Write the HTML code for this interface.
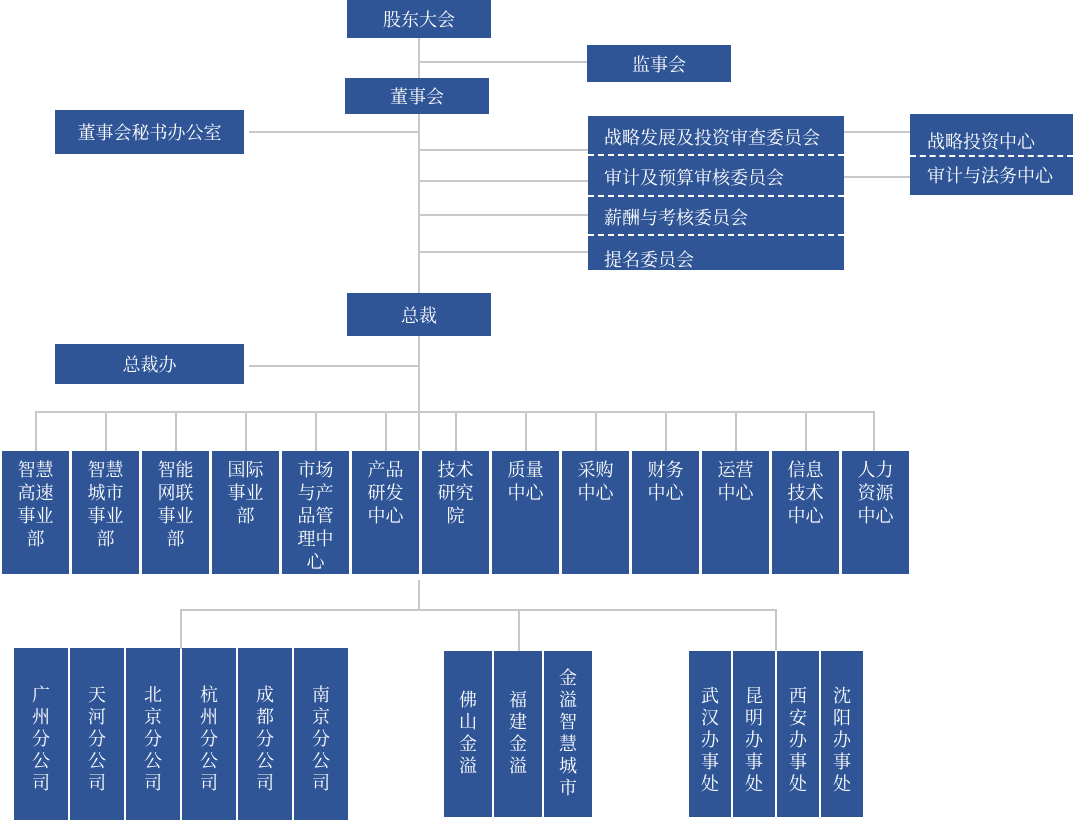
<!DOCTYPE html>
<html><head><meta charset="utf-8"><style>
body{margin:0;width:1075px;height:828px;background:#fff;position:relative;overflow:hidden;font-family:"Liberation Serif","Noto Serif CJK SC",serif;}
.b{position:absolute;background:#2f5597;color:#fff;font-size:18px;box-sizing:border-box;}
.c{display:flex;align-items:center;justify-content:center;}
.h{position:absolute;background:#c8c8c8;height:2px;}
.v{position:absolute;background:#c8c8c8;width:2px;}
.t{text-align:center;line-height:23px;padding-top:8px;}
.w{text-align:center;line-height:22px;}
.d{position:absolute;left:0;right:0;border-top:2px dashed #fff;}
</style></head><body>
<!-- lines -->
<div class="v" style="left:418px;top:38px;height:256px"></div>
<div class="h" style="left:419px;top:61px;width:168px"></div>
<div class="h" style="left:249px;top:131px;width:170px"></div>
<div class="h" style="left:419px;top:149px;width:169px"></div>
<div class="h" style="left:419px;top:180px;width:169px"></div>
<div class="h" style="left:419px;top:214px;width:169px"></div>
<div class="h" style="left:419px;top:251px;width:169px"></div>
<div class="h" style="left:844px;top:131px;width:66px"></div>
<div class="h" style="left:844px;top:176px;width:66px"></div>
<div class="v" style="left:418px;top:336px;height:114px"></div>
<div class="h" style="left:249px;top:365px;width:170px"></div>
<div class="h" style="left:36px;top:411px;width:839px"></div>
<div class="v" style="left:35px;top:411px;height:40px"></div>
<div class="v" style="left:105px;top:411px;height:40px"></div>
<div class="v" style="left:175px;top:411px;height:40px"></div>
<div class="v" style="left:245px;top:411px;height:40px"></div>
<div class="v" style="left:315px;top:411px;height:40px"></div>
<div class="v" style="left:385px;top:411px;height:40px"></div>
<div class="v" style="left:455px;top:411px;height:40px"></div>
<div class="v" style="left:525px;top:411px;height:40px"></div>
<div class="v" style="left:595px;top:411px;height:40px"></div>
<div class="v" style="left:665px;top:411px;height:40px"></div>
<div class="v" style="left:735px;top:411px;height:40px"></div>
<div class="v" style="left:805px;top:411px;height:40px"></div>
<div class="v" style="left:873px;top:411px;height:40px"></div>
<div class="v" style="left:418px;top:580px;height:31px"></div>
<div class="h" style="left:180px;top:609px;width:597px"></div>
<div class="v" style="left:180px;top:609px;height:40px"></div>
<div class="v" style="left:518px;top:609px;height:42px"></div>
<div class="v" style="left:775px;top:609px;height:42px"></div>
<!-- top boxes -->
<div class="b c" style="left:347px;top:0;width:144px;height:38px">股东大会</div>
<div class="b c" style="left:587px;top:45px;width:144px;height:37px">监事会</div>
<div class="b c" style="left:345px;top:78px;width:144px;height:36px">董事会</div>
<div class="b c" style="left:55px;top:110px;width:189px;height:44px">董事会秘书办公室</div>
<div class="b" style="left:588px;top:116px;width:256px;height:154px">
<div style="position:absolute;left:16px;top:8px">战略发展及投资审查委员会</div>
<div class="d" style="top:38px"></div>
<div style="position:absolute;left:16px;top:48px">审计及预算审核委员会</div>
<div class="d" style="top:79px"></div>
<div style="position:absolute;left:16px;top:88px">薪酬与考核委员会</div>
<div class="d" style="top:118px"></div>
<div style="position:absolute;left:16px;top:130px">提名委员会</div>
</div>
<div class="b" style="left:910px;top:114px;width:163px;height:81px">
<div style="position:absolute;left:17px;top:14px">战略投资中心</div>
<div class="d" style="top:41px"></div>
<div style="position:absolute;left:17px;top:48px">审计与法务中心</div>
</div>
<div class="b c" style="left:347px;top:293px;width:144px;height:43px">总裁</div>
<div class="b c" style="left:55px;top:344px;width:189px;height:40px">总裁办</div>
<!-- departments -->
<div class="b t" style="left:2px;top:451px;width:67px;height:123px">智慧<br>高速<br>事业<br>部</div>
<div class="b t" style="left:72px;top:451px;width:67px;height:123px">智慧<br>城市<br>事业<br>部</div>
<div class="b t" style="left:142px;top:451px;width:67px;height:123px">智能<br>网联<br>事业<br>部</div>
<div class="b t" style="left:212px;top:451px;width:67px;height:123px">国际<br>事业<br>部</div>
<div class="b t" style="left:282px;top:451px;width:67px;height:123px">市场<br>与产<br>品管<br>理中<br>心</div>
<div class="b t" style="left:352px;top:451px;width:67px;height:123px">产品<br>研发<br>中心</div>
<div class="b t" style="left:422px;top:451px;width:67px;height:123px">技术<br>研究<br>院</div>
<div class="b t" style="left:492px;top:451px;width:67px;height:123px">质量<br>中心</div>
<div class="b t" style="left:562px;top:451px;width:67px;height:123px">采购<br>中心</div>
<div class="b t" style="left:632px;top:451px;width:67px;height:123px">财务<br>中心</div>
<div class="b t" style="left:702px;top:451px;width:67px;height:123px">运营<br>中心</div>
<div class="b t" style="left:772px;top:451px;width:67px;height:123px">信息<br>技术<br>中心</div>
<div class="b t" style="left:842px;top:451px;width:67px;height:123px">人力<br>资源<br>中心</div>
<!-- branches -->
<div class="b w" style="left:14px;top:648px;width:54px;height:172px;padding-top:36px">广<br>州<br>分<br>公<br>司</div>
<div class="b w" style="left:70px;top:648px;width:54px;height:172px;padding-top:36px">天<br>河<br>分<br>公<br>司</div>
<div class="b w" style="left:126px;top:648px;width:54px;height:172px;padding-top:36px">北<br>京<br>分<br>公<br>司</div>
<div class="b w" style="left:182px;top:648px;width:54px;height:172px;padding-top:36px">杭<br>州<br>分<br>公<br>司</div>
<div class="b w" style="left:238px;top:648px;width:54px;height:172px;padding-top:36px">成<br>都<br>分<br>公<br>司</div>
<div class="b w" style="left:294px;top:648px;width:54px;height:172px;padding-top:36px">南<br>京<br>分<br>公<br>司</div>
<div class="b w" style="left:444px;top:651px;width:48px;height:166px;padding-top:38px">佛<br>山<br>金<br>溢</div>
<div class="b w" style="left:494px;top:651px;width:48px;height:166px;padding-top:38px">福<br>建<br>金<br>溢</div>
<div class="b w" style="left:544px;top:651px;width:48px;height:166px;padding-top:16px">金<br>溢<br>智<br>慧<br>城<br>市</div>
<div class="b w" style="left:689px;top:651px;width:42px;height:166px;padding-top:34px">武<br>汉<br>办<br>事<br>处</div>
<div class="b w" style="left:733px;top:651px;width:42px;height:166px;padding-top:34px">昆<br>明<br>办<br>事<br>处</div>
<div class="b w" style="left:777px;top:651px;width:42px;height:166px;padding-top:34px">西<br>安<br>办<br>事<br>处</div>
<div class="b w" style="left:821px;top:651px;width:42px;height:166px;padding-top:34px">沈<br>阳<br>办<br>事<br>处</div>
</body></html>
